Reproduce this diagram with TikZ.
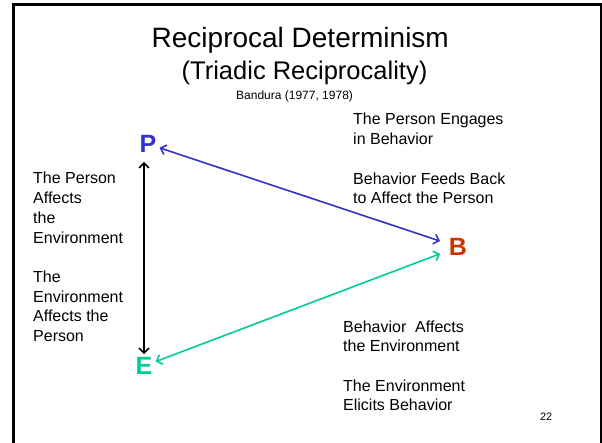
\documentclass[tikz,border=0pt]{standalone}
\usepackage{fontspec}
\setmainfont{Liberation Sans}
\usetikzlibrary{arrows.meta}

\definecolor{personblue}{RGB}{51,51,204}
\definecolor{envgreen}{RGB}{0,204,153}
\definecolor{behavred}{RGB}{204,51,0}

\begin{document}
\begin{tikzpicture}[x=1pt, y=-1pt,
    letter/.style={font=\fontsize{25}{25}\selectfont\bfseries, inner sep=3pt},
    note/.style={anchor=base west, align=left, inner sep=0pt, font=\fontsize{16}{19.7}\selectfont},
    link/.style={{Straight Barb[length=5pt,width=10pt]}-{Straight Barb[length=5pt,width=10pt]}, line width=1.6pt}]

        \useasboundingbox (0,0) rectangle (602,443);

        %% Slide frame
        \draw [line width=2.8pt] (13.5,443) -- (13.5,4.5) -- (601.5,4.5) -- (601.5,443);

        %% Title
        \node (title) [anchor=base west, inner sep=0pt, font=\fontsize{28}{28}\selectfont] at (151.5,48) {Reciprocal Determinism};
        \node (subtitle) [anchor=base west, inner sep=0pt, font=\fontsize{25.5}{25.5}\selectfont] at (181.5,80) {(Triadic Reciprocality)};
        \node (source) [anchor=base west, inner sep=0pt, font=\fontsize{12}{12}\selectfont] at (236,99.5) {Bandura (1977, 1978)};

        %% Corners
        \node (P) [letter, text=personblue] at (148,144) {P};
        \node (B) [letter, text=behavred] at (458,247) {B};
        \node (E) [letter, text=envgreen] at (144,366) {E};

        %% Links
        \draw [link, personblue, shorten >=6pt] (P) -- (B);
        \draw [link, envgreen, shorten >=6pt] (E) -- (B);
        \draw [link, black, shorten <=6pt] (P.south -| E.north) -- (E.north);

        %% Explanations (placed at the baseline of their last line)
        \node (PE) [note] at (33,341.6) {The Person\\Affects\\the\\Environment\\[19.7pt]The\\Environment\\Affects the\\Person};
        \node (PB) [note] at (353,203.8) {The Person Engages\\in Behavior\\[19.7pt]Behavior Feeds Back\\to Affect the Person};
        \node (EB) [note] at (343,410.8) {Behavior\ \ Affects\\the Environment\\[19.7pt]The Environment\\Elicits Behavior};

        %% Slide number
        \node (num) [anchor=base west, inner sep=0pt, font=\fontsize{10.8}{10.8}\selectfont] at (540,420) {22};

    \end{tikzpicture}
\end{document}
